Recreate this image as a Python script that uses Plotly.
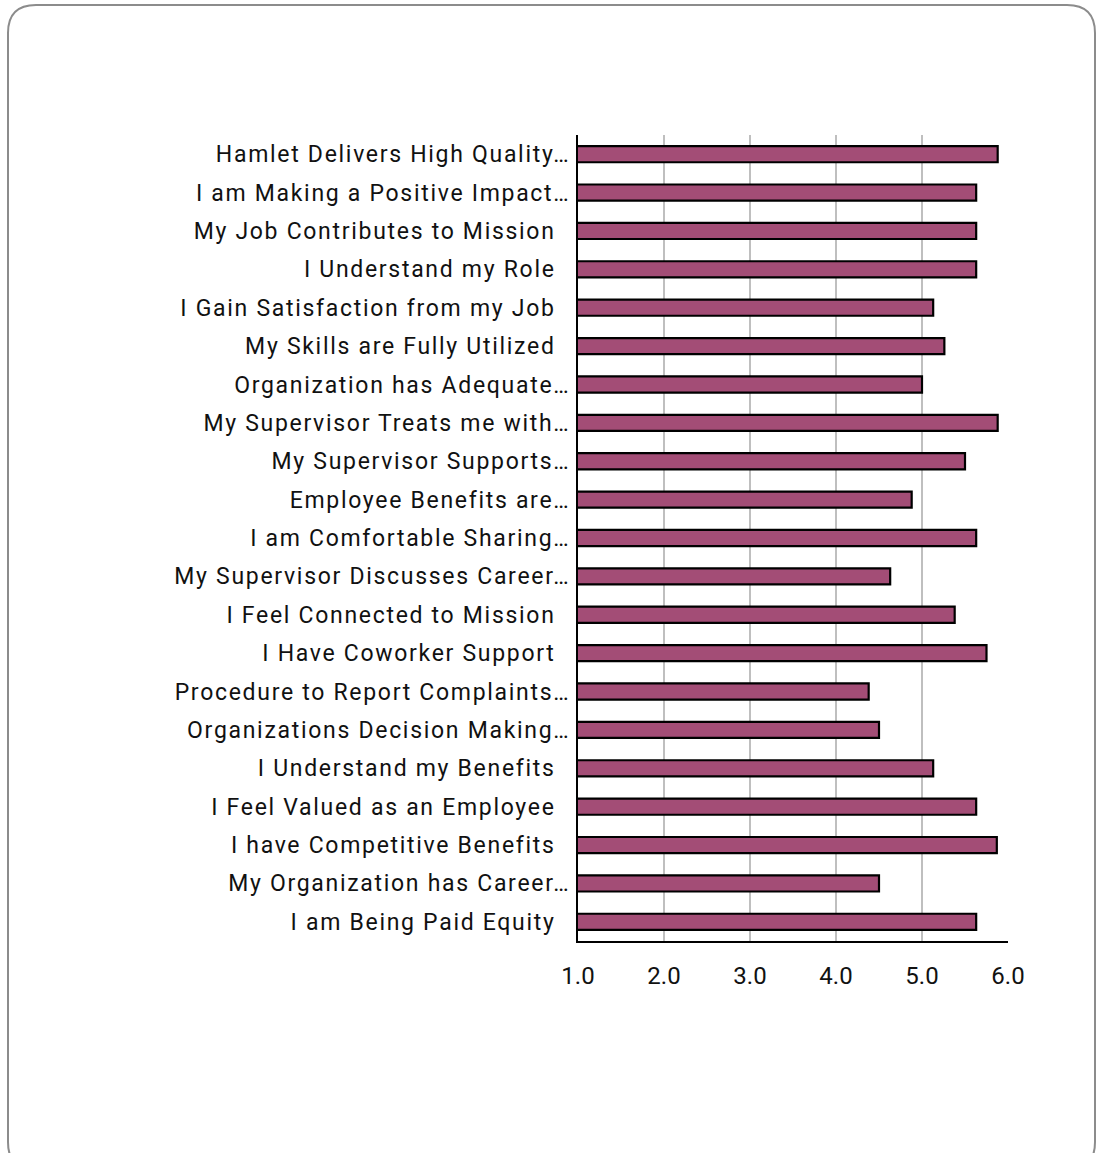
import plotly.graph_objects as go

categories = [
    "Hamlet Delivers High Quality…",
    "I am Making a Positive Impact…",
    "My Job Contributes to Mission\u00a0\u00a0",
    "I Understand my Role\u00a0\u00a0",
    "I Gain Satisfaction from my Job\u00a0\u00a0",
    "My Skills are Fully Utilized\u00a0\u00a0",
    "Organization has Adequate…",
    "My Supervisor Treats me with…",
    "My Supervisor Supports…",
    "Employee Benefits are…",
    "I am Comfortable Sharing…",
    "My Supervisor Discusses Career…",
    "I Feel Connected to Mission\u00a0\u00a0",
    "I Have Coworker Support\u00a0\u00a0",
    "Procedure to Report Complaints…",
    "Organizations Decision Making…",
    "I Understand my Benefits\u00a0\u00a0",
    "I Feel Valued as an Employee\u00a0\u00a0",
    "I have Competitive Benefits\u00a0\u00a0",
    "My Organization has Career…",
    "I am Being Paid Equity\u00a0\u00a0",
]
values = [5.88, 5.63, 5.63, 5.63, 5.13, 5.26, 5.00, 5.88, 5.50, 4.88, 5.63,
          4.63, 5.38, 5.75, 4.38, 4.50, 5.13, 5.63, 5.87, 4.50, 5.63]
x_ticks = [1, 2, 3, 4, 5, 6]
x_tick_labels = ["1.0", "2.0", "3.0", "4.0", "5.0", "6.0"]

W, H = 1097, 1153
L, R, T, B = 578, 89, 135, 212
pw, ph = W - L - R, H - T - B

fig = go.Figure(go.Bar(
    x=values, y=categories, orientation="h",
    marker=dict(color="#A34D76", line=dict(color="#000000", width=2.2)),
))

def px(xp):
    return (xp - L) / pw

def py(yp):
    return 1 - (yp - T) / ph

x0, y0, x1, y1, r = 8, 5, 1095, 1170, 28
path = (
    f"M {px(x0 + r)},{py(y0)} L {px(x1 - r)},{py(y0)} "
    f"Q {px(x1)},{py(y0)} {px(x1)},{py(y0 + r)} "
    f"L {px(x1)},{py(y1 - r)} Q {px(x1)},{py(y1)} {px(x1 - r)},{py(y1)} "
    f"L {px(x0 + r)},{py(y1)} Q {px(x0)},{py(y1)} {px(x0)},{py(y1 - r)} "
    f"L {px(x0)},{py(y0 + r)} Q {px(x0)},{py(y0)} {px(x0 + r)},{py(y0)} Z"
)
fig.add_shape(type="path", path=path, xref="paper", yref="paper",
              line=dict(color="#8c8c8c", width=2), layer="below")

fig.update_layout(
    width=W, height=H,
    margin=dict(l=L, r=R, t=T, b=B, pad=0),
    paper_bgcolor="white", plot_bgcolor="white",
    bargap=0.58, showlegend=False,
    font=dict(family="Roboto", size=23, color="#111111"),
)
fig.update_xaxes(
    range=[1, 6], tickvals=x_ticks, ticktext=x_tick_labels,
    showgrid=True, gridcolor="#bfbfbf", gridwidth=2,
    showline=True, linecolor="#000000", linewidth=2,
    zeroline=False, ticks="", ticklabelstandoff=12,
    tickfont=dict(size=24, color="#111111"),
)
fig.update_yaxes(
    autorange="reversed", showline=True, linecolor="#000000", linewidth=2,
    ticks="", ticklabelstandoff=1, showgrid=False,
    tickfont=dict(size=23, color="#111111"),
)

post = (
    "document.body.style.margin='0';"
    "document.body.style.overflow='hidden';"
    "document.documentElement.style.overflow='hidden';"
    "var s=document.createElement('style');"
    "s.innerHTML='.ytick text{letter-spacing:1.7px}';"
    "document.head.appendChild(s);"
)
fig.write_html("out.html", post_script=post, config={"displayModeBar": False})
